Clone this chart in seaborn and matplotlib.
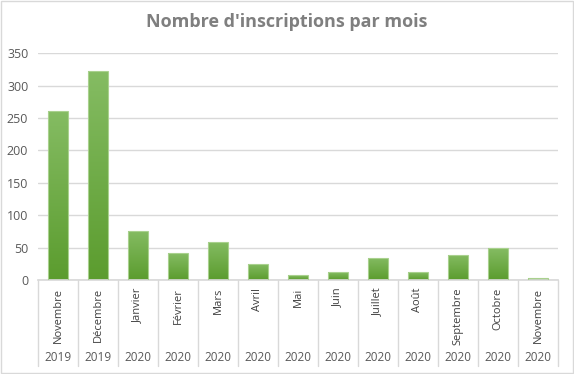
import numpy as np
import pandas as pd
import matplotlib
matplotlib.use("Agg")
import matplotlib.pyplot as plt
from matplotlib.patches import Rectangle
from matplotlib.colors import LinearSegmentedColormap
import seaborn as sns

# data
months = ["Novembre", "Décembre", "Janvier", "Février", "Mars", "Avril", "Mai",
          "Juin", "Juillet", "Août", "Septembre", "Octobre", "Novembre"]
years = ["2019", "2019", "2020", "2020", "2020", "2020", "2020",
         "2020", "2020", "2020", "2020", "2020", "2020"]
inscriptions = [261, 322, 76, 41, 59, 25, 7, 12, 34, 12, 39, 49, 3]

df = pd.DataFrame({"pos": range(len(months)), "n": inscriptions})

sns.set_theme(style="white")
plt.rcParams["font.family"] = ["Open Sans", "DejaVu Sans"]

fig = plt.figure(figsize=(5.74, 3.74), dpi=100)
ax = fig.add_axes([38 / 574, 94 / 374, 520 / 574, 226.7 / 374])

sns.barplot(data=df, x="pos", y="n", color="#70AD47", width=0.5, ax=ax,
            saturation=1, native_scale=True)

# gradient fill for each bar (excel-like)
cmap = LinearSegmentedColormap.from_list("g", ["#5B9C2E", "#85BC63"])
grad = np.linspace(0, 1, 256).reshape(-1, 1)
for p in ax.patches:
    x0, y0 = p.get_x(), p.get_y()
    w, h = p.get_width(), p.get_height()
    im = ax.imshow(grad, cmap=cmap, aspect="auto", origin="lower",
                   extent=[x0, x0 + w, y0, y0 + h], zorder=2)
    im.set_clip_path(p)
    p.set_facecolor("none")
    p.set_edgecolor("#A9D18E")
    p.set_linewidth(0.8)
    p.set_zorder(3)

ax.set_xlim(-0.5, len(months) - 0.5)
ax.set_ylim(0, 350)
ax.set_yticks(range(0, 351, 50))
ax.yaxis.grid(True, color="#D9D9D9", linewidth=1)
ax.set_axisbelow(True)
for s in ["top", "right", "left"]:
    ax.spines[s].set_visible(False)
ax.spines["bottom"].set_color("#D9D9D9")
ax.tick_params(axis="y", length=0, pad=7, labelsize=9, labelcolor="#595959")
ax.set_xticks([])
ax.set_xlabel("")
ax.set_ylabel("")

# multi-level category axis
trans = ax.get_xaxis_transform()
low = -86 / 226.7
for i in range(len(months) + 1):
    ax.plot([i - 0.5, i - 0.5], [0, low], transform=trans, clip_on=False,
            color="#D9D9D9", linewidth=1)
for i, (m, yr) in enumerate(zip(months, years)):
    ax.annotate(m, xy=(i, 0), xycoords=trans, xytext=(0, -5.5),
                textcoords="offset points", rotation=90, ha="center", va="top",
                fontsize=8, color="#404040")
    ax.annotate(yr, xy=(i, 0), xycoords=trans, xytext=(0, -56),
                textcoords="offset points", ha="center", va="center",
                fontsize=8.5, color="#595959")

fig.text(0.5, 1 - 22 / 374, "Nombre d'inscriptions par mois", ha="center",
         va="center", fontsize=13, fontweight="bold", color="#7F7F7F")

fig.patches.append(Rectangle((0.002, 0.003), 0.996, 0.994, transform=fig.transFigure,
                             fill=False, edgecolor="#D9D9D9", linewidth=1))

fig.savefig("out.png", dpi=100)
